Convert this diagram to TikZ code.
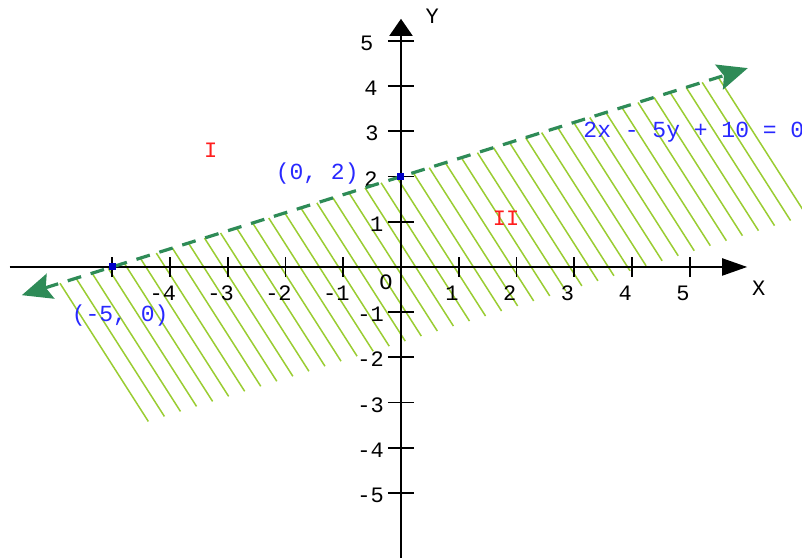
\documentclass[tikz,border=0pt]{standalone}
\usepackage{fontspec}
\setmonofont{Liberation Mono}
\usetikzlibrary{arrows.meta}
\definecolor{hatchgreen}{RGB}{154,205,50}
\definecolor{linegreen}{RGB}{46,139,87}
\definecolor{labelblue}{RGB}{40,40,255}
\definecolor{dotblue}{RGB}{0,0,200}
\definecolor{regionred}{RGB}{255,30,30}
\tikzset{
    axisline/.style={draw=black, line width=1pt},
    axtick/.style={draw=black, line width=0.9pt},
    ticklabel/.style={font=\ttfamily\fontsize{11}{11}\selectfont, inner sep=0pt},
    ptlabel/.style={font=\ttfamily\fontsize{11.5}{11.5}\selectfont, text=labelblue, inner sep=0pt},
    regionlabel/.style={font=\ttfamily\fontsize{11}{11}\selectfont, text=regionred, inner sep=0pt},
    boundary/.style={draw=linegreen, line width=1.6pt, dash pattern=on 7pt off 5pt,
        {Stealth[length=15pt,width=13pt,inset=2.5pt]}-{Stealth[length=15pt,width=13pt,inset=2.5pt]}},
    hatch/.style={draw=hatchgreen, line width=0.75pt},
    dot/.style={rectangle, fill=dotblue, inner sep=0pt, minimum size=3.5pt}
}

\begin{document}
\begin{tikzpicture}[x=28.9pt, y=22.6pt]
\fill[white] (-6.938,-6.438) rectangle (6.938,5.907);
\useasboundingbox (-6.938,-6.438) rectangle (6.938,5.907);

\foreach \k in {-18,...,23} {
    \pgfmathsetmacro\c{\k/3-0.08}
    \pgfmathsetmacro\ts{-(0.4*\c+2)/2.4}
    \pgfmathsetmacro\te{(1.67-0.4*\c)/2.4}
    \draw[hatch] ({\c+\ts},{-2*\ts}) -- ({\c+\te},{-2*\te});
}

\coordinate (xmin) at (-6.77,0);
\coordinate (xmax) at (5.99,0);
\coordinate (ymin) at (0,-6.44);
\coordinate (ymax) at (0,5.49);
\draw[axisline, -{Triangle[length=12.5pt,width=8.5pt]}] (xmin) -- (xmax);
\draw[axisline, -{Triangle[length=8.5pt,width=11.5pt]}] (ymin) -- (ymax);

\foreach \x in {-5,...,-1,1,2,...,5}
    \draw[axtick] (\x,-0.22) -- (\x,0.22);
\foreach \y in {-5,...,-1,1,2,...,5}
    \draw[axtick] (-0.225,\y) -- (0.225,\y);

\foreach \x in {-4,...,-1,1,2,...,5}
    \node[ticklabel] (xl\x) at (\x-0.12,-0.575) {\x};
\foreach \y/\dx in {5/-0.47,4/-0.4,3/-0.38,2/-0.4,1/-0.3,-1/-0.29,-2/-0.29,-3/-0.29,-4/-0.29,-5/-0.29}
    \node[ticklabel, anchor=east] (yl\y) at (\dx,\y-0.05) {\y};

\node[ticklabel] (orig) at (-0.26,-0.33) {O};
\node[ticklabel] (xname) at (6.19,-0.46) {X};
\node[ticklabel] (yname) at (0.54,5.55) {Y};

\coordinate (lstart) at (-6.56,-0.624);
\coordinate (lend) at (6.0,4.4);
\draw[boundary] (lstart) -- (lend);

\node[dot] (p) at (-5,0) {};
\node[dot] (q) at (0,2) {};
\node[ptlabel] (plabel) at (-4.86,-1.08) {(-5, 0)};
\node[ptlabel] (qlabel) at (-1.45,2.06) {(0, 2)};
\node[ptlabel, anchor=west] (eq) at (3.15,2.99) {2x - 5y + 10 = 0};

\node[regionlabel] (one) at (-3.29,2.59) {I};
\node[regionlabel] (two) at (1.82,1.08) {II};
\end{tikzpicture}
\end{document}
